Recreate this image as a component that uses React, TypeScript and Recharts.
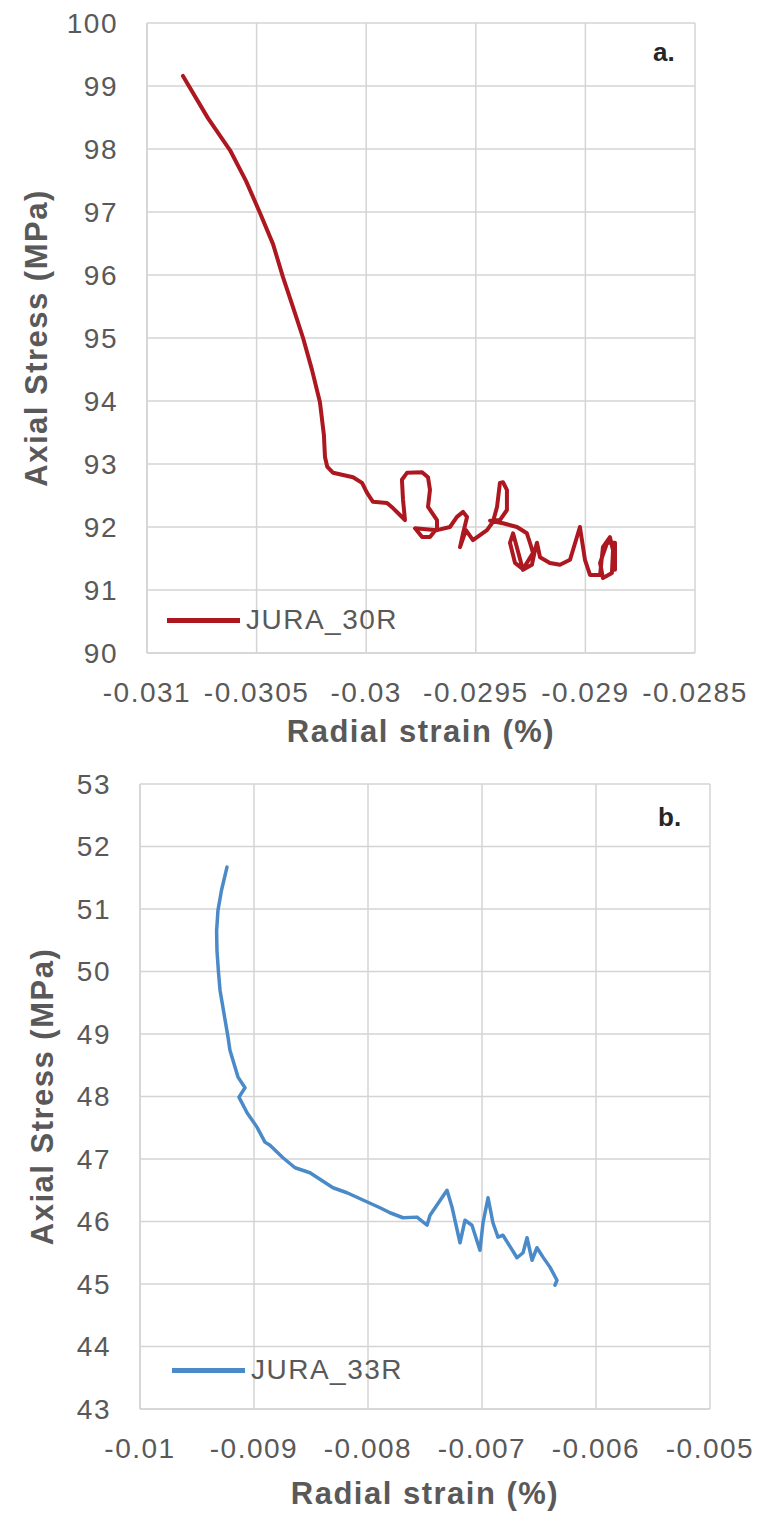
import React from 'react';
import { LineChart, Line, XAxis, YAxis, CartesianGrid } from 'recharts';

// JURA_30R – radial strain (%) vs axial stress (MPa)
const strain30 = [
  -0.030836, -0.030722, -0.030621, -0.030548, -0.030484, -0.030425, -0.03038, -0.030334,
  -0.030288, -0.030247, -0.030211, -0.030193, -0.030188, -0.030178,
  -0.030151, -0.03006, -0.030019, -0.029996, -0.029969, -0.029905, -0.029878, -0.029846,
  -0.029823, -0.029832, -0.029837, -0.029814, -0.029745, -0.029718, -0.029709, -0.029718,
  -0.029677, -0.029677, -0.029709, -0.029745, -0.029777, -0.029677, -0.029618, -0.029586,
  -0.029558, -0.02954, -0.029558, -0.029572, -0.029545, -0.029513, -0.029449, -0.029422,
  -0.029403, -0.02939, -0.029376, -0.029358, -0.029358, -0.02939, -0.029435, -0.029376,
  -0.029312, -0.029267, -0.029253, -0.029239, -0.029285, -0.029321, -0.029344, -0.02933,
  -0.029285, -0.029244, -0.02923, -0.029221, -0.029207, -0.029162, -0.029116, -0.02907,
  -0.029025, -0.029002, -0.028979, -0.028933, -0.02892, -0.028888, -0.028874, -0.028879,
  -0.02892, -0.028933, -0.028901, -0.028865, -0.028865,
];
const stress30 = [
  99.16, 98.49, 97.98, 97.49, 96.98, 96.49, 95.97, 95.49,
  95.0, 94.49, 93.98, 93.46, 93.11, 92.96,
  92.86, 92.79, 92.7, 92.54, 92.4, 92.38, 92.3, 92.19,
  92.11, 92.43, 92.75, 92.86, 92.87, 92.79, 92.59, 92.32,
  92.11, 91.98, 91.84, 91.84, 91.98, 91.95, 92.0, 92.16,
  92.24, 92.16, 91.9, 91.68, 91.95, 91.79, 91.95, 92.08,
  92.32, 92.7, 92.71, 92.59, 92.27, 92.11, 92.1, 92.06,
  92.0, 91.9, 91.75, 91.59, 91.33, 91.43, 91.75, 91.9,
  91.32, 91.4, 91.63, 91.75, 91.52, 91.43, 91.4, 91.48,
  92.0, 91.48, 91.24, 91.24, 91.68, 91.84, 91.63, 91.27,
  91.19, 91.43, 91.75, 91.75, 91.32,
];

// JURA_33R
const strain33 = [
  -0.009237, -0.009285, -0.009316, -0.009328, -0.009325, -0.009312, -0.009298, -0.009228,
  -0.009211, -0.00914, -0.009079, -0.009132, -0.009061, -0.008974, -0.008904, -0.00886,
  -0.008746, -0.00864, -0.008509, -0.008307, -0.008184, -0.007895, -0.007807, -0.007693,
  -0.00757, -0.007482, -0.007456, -0.007307, -0.007263, -0.007193, -0.007149, -0.007088,
  -0.007018, -0.006991, -0.006947, -0.006904, -0.00686, -0.006816, -0.006693, -0.00664,
  -0.006605, -0.006561, -0.006518, -0.006465, -0.006404, -0.006342, -0.00636,
];
const stress33 = [
  51.67, 51.3, 50.98, 50.65, 50.34, 50.0, 49.7, 48.95,
  48.74, 48.31, 48.14, 47.99, 47.74, 47.51, 47.27, 47.22,
  47.02, 46.86, 46.78, 46.54, 46.46, 46.22, 46.14, 46.06,
  46.07, 45.94, 46.1, 46.5, 46.23, 45.66, 46.02, 45.94,
  45.54, 45.98, 46.38, 45.98, 45.75, 45.78, 45.42, 45.5,
  45.74, 45.38, 45.58, 45.43, 45.27, 45.06, 44.98,
];

const xTicksA = [-0.031, -0.0305, -0.03, -0.0295, -0.029, -0.0285];
const yTicksA = [90, 91, 92, 93, 94, 95, 96, 97, 98, 99, 100];
const xTicksB = [-0.01, -0.009, -0.008, -0.007, -0.006, -0.005];
const yTicksB = [43, 44, 45, 46, 47, 48, 49, 50, 51, 52, 53];

const FONT = '"Liberation Sans", Arial, sans-serif';
const GRID = '#d4d4d4';
const TEXT = '#595959';
const tickStyle = { fontSize: 28, fill: TEXT, fontFamily: FONT, letterSpacing: 1.5 };

const toRows = (xs: number[], ys: number[]) => xs.map((x, i) => ({ x, y: ys[i] }));

interface PanelProps {
  top: number;
  height: number;
  margin: { top: number; right: number; left: number; bottom: number };
  yAxisWidth: number;
  xAxisHeight: number;
  xTicks: number[];
  yTicks: number[];
  xs: number[];
  ys: number[];
  color: string;
  width: number;
  name: string;
  tag: string;
  yTitleX: number;
  xTitleDy: number;
  legend: { left: number; top: number };
  tagPos: { left: number; top: number };
}

function Panel(p: PanelProps) {
  const data = toRows(p.xs, p.ys);
  return (
    <div style={{ position: 'absolute', left: 0, top: p.top, width: 761, height: p.height }}>
      <LineChart width={761} height={p.height} data={data} margin={p.margin}>
        <CartesianGrid stroke={GRID} strokeWidth={1.5} />
        <XAxis
          type="number"
          dataKey="x"
          domain={[p.xTicks[0], p.xTicks[p.xTicks.length - 1]]}
          ticks={p.xTicks}
          interval={0}
          tickFormatter={(v: number) => String(v)}
          tickLine={false}
          tickSize={0}
          tickMargin={29}
          height={p.xAxisHeight}
          axisLine={{ stroke: GRID, strokeWidth: 1.5 }}
          tick={tickStyle}
          label={{
            content: (props: any) => {
              const vb = props.viewBox || {};
              return (
                <text
                  x={vb.x + vb.width / 2}
                  y={vb.y + p.xTitleDy}
                  textAnchor="middle"
                  dominantBaseline="central"
                  style={{ fontSize: 31, fontWeight: 700, fill: TEXT, fontFamily: FONT, letterSpacing: 1.5 }}
                >
                  Radial strain (%)
                </text>
              );
            },
          }}
        />
        <YAxis
          type="number"
          domain={[p.yTicks[0], p.yTicks[p.yTicks.length - 1]]}
          ticks={p.yTicks}
          interval={0}
          tickLine={false}
          tickSize={0}
          tickMargin={29}
          width={p.yAxisWidth}
          axisLine={{ stroke: GRID, strokeWidth: 1.5 }}
          tick={tickStyle}
          label={{
            content: (props: any) => {
              const vb = props.viewBox || {};
              const cy = vb.y + vb.height / 2;
              return (
                <text
                  x={p.yTitleX}
                  y={cy}
                  transform={`rotate(-90 ${p.yTitleX} ${cy})`}
                  textAnchor="middle"
                  dominantBaseline="central"
                  style={{ fontSize: 31, fontWeight: 700, fill: TEXT, fontFamily: FONT, letterSpacing: 1.5 }}
                >
                  Axial Stress (MPa)
                </text>
              );
            },
          }}
        />
        <Line
          type="linear"
          dataKey="y"
          stroke={p.color}
          strokeWidth={p.width}
          strokeLinejoin="round"
          strokeLinecap="round"
          dot={false}
          activeDot={false}
          isAnimationActive={false}
        />
      </LineChart>
      <div
        style={{
          position: 'absolute',
          left: p.legend.left,
          top: p.legend.top,
          display: 'flex',
          alignItems: 'center',
          fontFamily: FONT,
          fontSize: 28,
          letterSpacing: 1.5,
          color: TEXT,
        }}
      >
        <span style={{ display: 'inline-block', width: 73, height: 5, background: p.color, marginRight: 6 }} />
        <span style={{ lineHeight: '32px' }}>{p.name}</span>
      </div>
      <div
        style={{
          position: 'absolute',
          left: p.tagPos.left,
          top: p.tagPos.top,
          fontFamily: FONT,
          fontSize: 26,
          fontWeight: 700,
          color: '#262626',
          lineHeight: '30px',
        }}
      >
        {p.tag}
      </div>
    </div>
  );
}

export default function App() {
  return (
    <div style={{ position: 'absolute', left: 0, top: 0, width: 761, height: 1518, background: '#fff' }}>
      <Panel
        top={0}
        height={760}
        margin={{ top: 23, right: 66, left: 0, bottom: 0 }}
        yAxisWidth={147}
        xAxisHeight={107}
        xTicks={xTicksA}
        yTicks={yTicksA}
        xs={strain30}
        ys={stress30}
        color="#ad1820"
        width={4}
        name="JURA_30R"
        tag="a."
        yTitleX={36}
        xTitleDy={78}
        legend={{ left: 167, top: 604 }}
        tagPos={{ left: 653, top: 37 }}
      />
      <Panel
        top={760}
        height={758}
        margin={{ top: 24, right: 51, left: 0, bottom: 0 }}
        yAxisWidth={140}
        xAxisHeight={109}
        xTicks={xTicksB}
        yTicks={yTicksB}
        xs={strain33}
        ys={stress33}
        color="#4a8ac8"
        width={3.5}
        name="JURA_33R"
        tag="b."
        yTitleX={42}
        xTitleDy={84}
        legend={{ left: 172, top: 594 }}
        tagPos={{ left: 658, top: 42 }}
      />
    </div>
  );
}
